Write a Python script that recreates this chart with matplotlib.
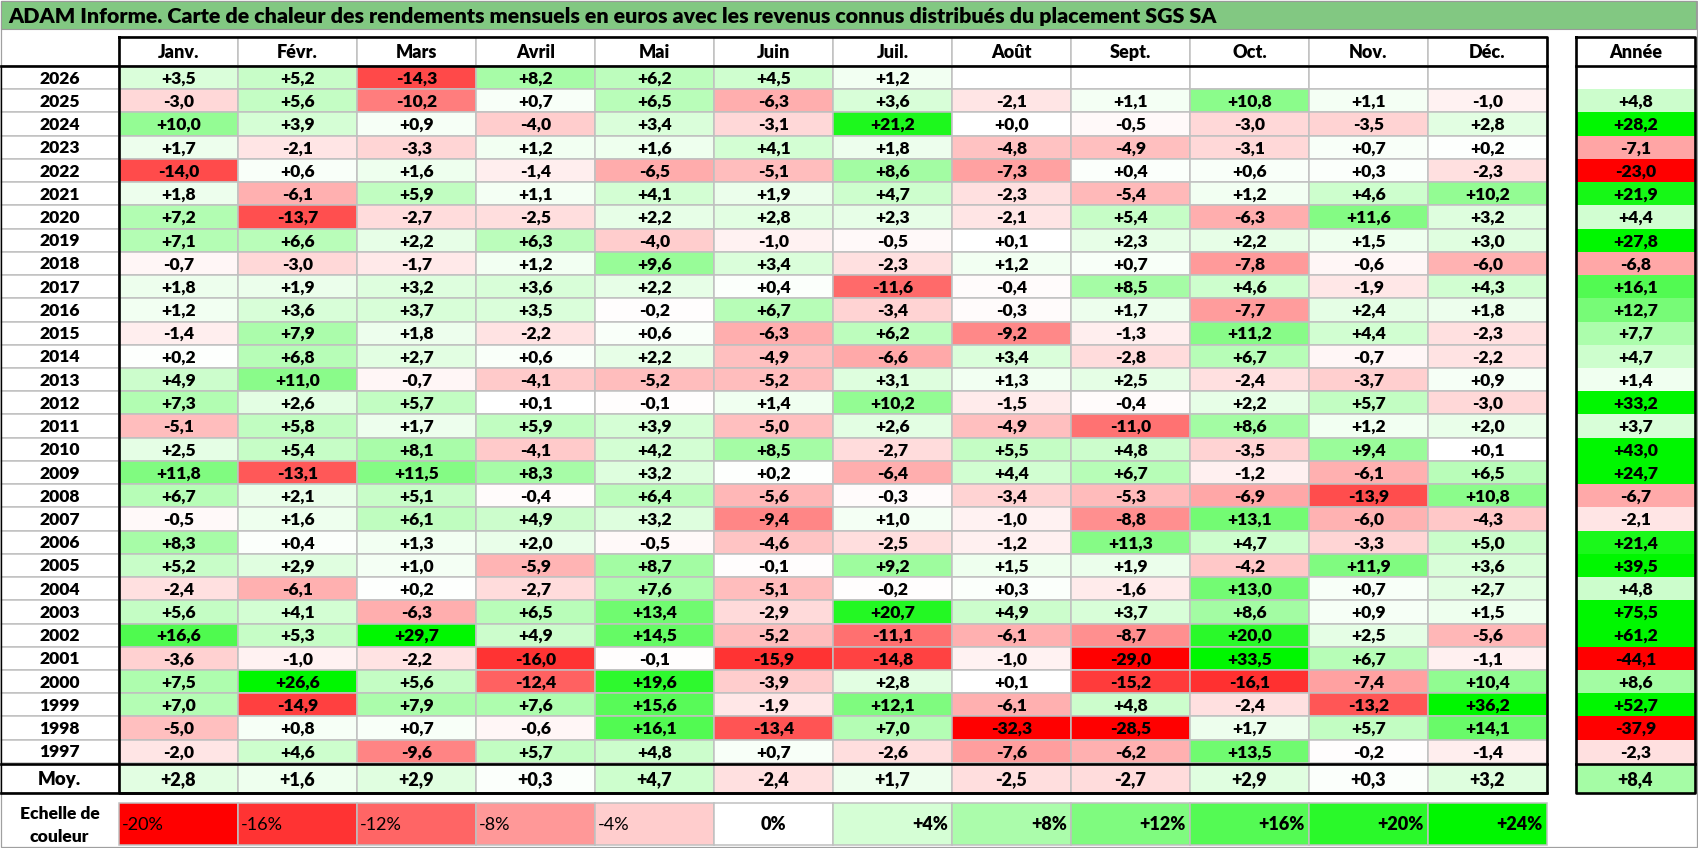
import matplotlib
matplotlib.use("Agg")
import matplotlib.pyplot as plt
from matplotlib.patches import Rectangle
from matplotlib.colors import LinearSegmentedColormap, Normalize

plt.rcParams['font.family'] = ['Lato', 'DejaVu Sans']

# ---------------- data ----------------
title = ("ADAM Informe. Carte de chaleur des rendements mensuels en euros avec les "
         "revenus connus distribués du placement SGS SA")
months = ["Janv.", "Févr.", "Mars", "Avril", "Mai", "Juin", "Juil.", "Août",
          "Sept.", "Oct.", "Nov.", "Déc."]
years = [2026, 2025, 2024, 2023, 2022, 2021, 2020, 2019, 2018, 2017, 2016, 2015,
         2014, 2013, 2012, 2011, 2010, 2009, 2008, 2007, 2006, 2005, 2004, 2003,
         2002, 2001, 2000, 1999, 1998, 1997]

y2026 = [3.5, 5.2, -14.3, 8.2, 6.2, 4.5, 1.2, None, None, None, None, None]
y2025 = [-3.0, 5.6, -10.2, 0.7, 6.5, -6.3, 3.6, -2.1, 1.1, 10.8, 1.1, -1.0]
y2024 = [10.0, 3.9, 0.9, -4.0, 3.4, -3.1, 21.2, 0.0, -0.5, -3.0, -3.5, 2.8]
y2023 = [1.7, -2.1, -3.3, 1.2, 1.6, 4.1, 1.8, -4.8, -4.9, -3.1, 0.7, 0.2]
y2022 = [-14.0, 0.6, 1.6, -1.4, -6.5, -5.1, 8.6, -7.3, 0.4, 0.6, 0.3, -2.3]
y2021 = [1.8, -6.1, 5.9, 1.1, 4.1, 1.9, 4.7, -2.3, -5.4, 1.2, 4.6, 10.2]
y2020 = [7.2, -13.7, -2.7, -2.5, 2.2, 2.8, 2.3, -2.1, 5.4, -6.3, 11.6, 3.2]
y2019 = [7.1, 6.6, 2.2, 6.3, -4.0, -1.0, -0.5, 0.1, 2.3, 2.2, 1.5, 3.0]
y2018 = [-0.7, -3.0, -1.7, 1.2, 9.6, 3.4, -2.3, 1.2, 0.7, -7.8, -0.6, -6.0]
y2017 = [1.8, 1.9, 3.2, 3.6, 2.2, 0.4, -11.6, -0.4, 8.5, 4.6, -1.9, 4.3]
y2016 = [1.2, 3.6, 3.7, 3.5, -0.2, 6.7, -3.4, -0.3, 1.7, -7.7, 2.4, 1.8]
y2015 = [-1.4, 7.9, 1.8, -2.2, 0.6, -6.3, 6.2, -9.2, -1.3, 11.2, 4.4, -2.3]
y2014 = [0.2, 6.8, 2.7, 0.6, 2.2, -4.9, -6.6, 3.4, -2.8, 6.7, -0.7, -2.2]
y2013 = [4.9, 11.0, -0.7, -4.1, -5.2, -5.2, 3.1, 1.3, 2.5, -2.4, -3.7, 0.9]
y2012 = [7.3, 2.6, 5.7, 0.1, -0.1, 1.4, 10.2, -1.5, -0.4, 2.2, 5.7, -3.0]
y2011 = [-5.1, 5.8, 1.7, 5.9, 3.9, -5.0, 2.6, -4.9, -11.0, 8.6, 1.2, 2.0]
y2010 = [2.5, 5.4, 8.1, -4.1, 4.2, 8.5, -2.7, 5.5, 4.8, -3.5, 9.4, 0.1]
y2009 = [11.8, -13.1, 11.5, 8.3, 3.2, 0.2, -6.4, 4.4, 6.7, -1.2, -6.1, 6.5]
y2008 = [6.7, 2.1, 5.1, -0.4, 6.4, -5.6, -0.3, -3.4, -5.3, -6.9, -13.9, 10.8]
y2007 = [-0.5, 1.6, 6.1, 4.9, 3.2, -9.4, 1.0, -1.0, -8.8, 13.1, -6.0, -4.3]
y2006 = [8.3, 0.4, 1.3, 2.0, -0.5, -4.6, -2.5, -1.2, 11.3, 4.7, -3.3, 5.0]
y2005 = [5.2, 2.9, 1.0, -5.9, 8.7, -0.1, 9.2, 1.5, 1.9, -4.2, 11.9, 3.6]
y2004 = [-2.4, -6.1, 0.2, -2.7, 7.6, -5.1, -0.2, 0.3, -1.6, 13.0, 0.7, 2.7]
y2003 = [5.6, 4.1, -6.3, 6.5, 13.4, -2.9, 20.7, 4.9, 3.7, 8.6, 0.9, 1.5]
y2002 = [16.6, 5.3, 29.7, 4.9, 14.5, -5.2, -11.1, -6.1, -8.7, 20.0, 2.5, -5.6]
y2001 = [-3.6, -1.0, -2.2, -16.0, -0.1, -15.9, -14.8, -1.0, -29.0, 33.5, 6.7, -1.1]
y2000 = [7.5, 26.6, 5.6, -12.4, 19.6, -3.9, 2.8, 0.1, -15.2, -16.1, -7.4, 10.4]
y1999 = [7.0, -14.9, 7.9, 7.6, 15.6, -1.9, 12.1, -6.1, 4.8, -2.4, -13.2, 36.2]
y1998 = [-5.0, 0.8, 0.7, -0.6, 16.1, -13.4, 7.0, -32.3, -28.5, 1.7, 5.7, 14.1]
y1997 = [-2.0, 4.6, -9.6, 5.7, 4.8, 0.7, -2.6, -7.6, -6.2, 13.5, -0.2, -1.4]

annual = [None, 4.8, 28.2, -7.1, -23.0, 21.9, 4.4, 27.8, -6.8, 16.1, 12.7, 7.7,
          4.7, 1.4, 33.2, 3.7, 43.0, 24.7, -6.7, -2.1, 21.4, 39.5, 4.8, 75.5,
          61.2, -44.1, 8.6, 52.7, -37.9, -2.3]
month_avg = [2.8, 1.6, 2.9, 0.3, 4.7, -2.4, 1.7, -2.5, -2.7, 2.9, 0.3, 3.2]
annual_avg = 8.4
avg_label = "Moy."
annual_label = "Année"
scale_label = ["Echelle de", "couleur"]
scale_values = [-20, -16, -12, -8, -4, 0, 4, 8, 12, 16, 20, 24]

rows = [y2026, y2025, y2024, y2023, y2022, y2021, y2020, y2019, y2018, y2017,
        y2016, y2015, y2014, y2013, y2012, y2011, y2010, y2009, y2008, y2007,
        y2006, y2005, y2004, y2003, y2002, y2001, y2000, y1999, y1998, y1997]

# ---------------- style / layout ----------------
W, H = 1698, 848
X0, CW = 119, 119.0          # month area left edge, column width
XA0, XA1 = 1576, 1695        # annual column
HY0, HY1 = 37, 66            # header row
RH = 23.23                   # row height
MY0, MY1 = 764, 793          # average row
LY0, LY1 = 803, 845          # colour scale row
GRID = '#c0c0c0'
FS = 12.6
WT = 'heavy'

cmap = LinearSegmentedColormap.from_list(
    'rg', [(0.0, (1.0, 0.0, 0.0)), (20 / 44, (1.0, 1.0, 1.0)), (1.0, (0.0, 0.97, 0.0))])
norm = Normalize(vmin=-20, vmax=24, clip=True)


def fmt(v):
    return f"{v:+.1f}".replace('.', ',')


def color(v):
    return (1, 1, 1) if v is None else cmap(norm(v))


fig = plt.figure(figsize=(W / 100, H / 100), dpi=100)
ax = fig.add_axes([0, 0, 1, 1])
ax.set_xlim(0, W)
ax.set_ylim(H, 0)
ax.axis('off')

# outer frame
ax.add_patch(Rectangle((0.5, 0.5), W - 1.5, H - 1.5, fc='white', ec='#a0a0a0', lw=0.9, zorder=0))

# title bar
ax.add_patch(Rectangle((1, 1), W - 3, 28, fc='#82c882', ec='#9a9a9a', lw=0.8, zorder=1))
ax.text(8, 16, title, fontsize=15.4, fontweight=WT, va='center', ha='left', zorder=5)

# header
for j, m in enumerate(months):
    x = X0 + j * CW
    ax.add_patch(Rectangle((x, HY0), CW, HY1 - HY0, fc='white', ec=GRID, lw=1.1, zorder=2))
    ax.text(x + CW / 2, (HY0 + HY1) / 2 + 1, m, fontsize=FS + 0.4, fontweight=WT,
            ha='center', va='center', zorder=5)
ax.text((XA0 + XA1) / 2, (HY0 + HY1) / 2 + 1, annual_label, fontsize=FS + 0.4,
        fontweight=WT, ha='center', va='center', zorder=5)

# body
for i, (yr, row) in enumerate(zip(years, rows)):
    y = HY1 + i * RH
    yc = y + RH / 2 + 1
    ax.add_patch(Rectangle((1, y), X0 - 1, RH, fc='white', ec=GRID, lw=1.1, zorder=2))
    ax.text(X0 / 2, yc, str(yr), fontsize=FS, fontweight=WT, ha='center', va='center', zorder=5)
    for j, v in enumerate(row):
        x = X0 + j * CW
        ax.add_patch(Rectangle((x, y), CW, RH, fc=color(v), ec=GRID, lw=1.1, zorder=2))
        if v is not None:
            ax.text(x + CW / 2, yc, fmt(v), fontsize=FS, fontweight=WT,
                    ha='center', va='center', zorder=5)
    a = annual[i]
    ax.add_patch(Rectangle((XA0, y), XA1 - XA0, RH, fc=color(a), ec='none', lw=0, zorder=2))
    if a is not None:
        ax.text((XA0 + XA1) / 2, yc, fmt(a), fontsize=FS, fontweight=WT,
                ha='center', va='center', zorder=5)

# average row
myc = (MY0 + MY1) / 2 + 1
ax.add_patch(Rectangle((1, MY0), X0 - 1, MY1 - MY0, fc='white', ec=GRID, lw=1.1, zorder=2))
ax.text(X0 / 2, myc, avg_label, fontsize=FS + 0.8, fontweight=WT, ha='center', va='center', zorder=5)
for j, v in enumerate(month_avg):
    x = X0 + j * CW
    ax.add_patch(Rectangle((x, MY0), CW, MY1 - MY0, fc=color(v), ec=GRID, lw=1.1, zorder=2))
    ax.text(x + CW / 2, myc, fmt(v), fontsize=FS + 0.4, fontweight=WT,
            ha='center', va='center', zorder=5)
ax.add_patch(Rectangle((XA0, MY0), XA1 - XA0, MY1 - MY0, fc=color(annual_avg), ec='none', zorder=2))
ax.text((XA0 + XA1) / 2, myc, fmt(annual_avg), fontsize=FS + 0.4, fontweight=WT,
        ha='center', va='center', zorder=5)

# black borders
BL = dict(color='black', lw=1.9, zorder=6, solid_capstyle='projecting')
ax.plot([X0, X0 + 12 * CW, X0 + 12 * CW, X0, X0], [HY0, HY0, MY1, MY1, HY0], **BL)
ax.plot([1, X0 + 12 * CW], [HY1, HY1], **BL)
ax.plot([1, X0 + 12 * CW], [MY0, MY0], **BL)
ax.plot([1, X0 + 12 * CW], [MY1, MY1], **BL)
ax.plot([1, 1], [HY1, MY1], color='black', lw=1.0, zorder=6)
ax.plot([XA0, XA1, XA1, XA0, XA0], [HY0, HY0, MY1, MY1, HY0], **BL)
ax.plot([XA0, XA1], [HY1, HY1], **BL)
ax.plot([XA0, XA1], [MY0, MY0], **BL)

# colour scale
ax.text(X0 / 2, 814, scale_label[0], fontsize=FS, fontweight=WT, ha='center', va='center', zorder=5)
ax.text(X0 / 2, 837, scale_label[1], fontsize=FS, fontweight=WT, ha='center', va='center', zorder=5)
for j, v in enumerate(scale_values):
    x = X0 + j * CW
    ax.add_patch(Rectangle((x, LY0), CW, LY1 - LY0, fc=color(v), ec=GRID, lw=1.1, zorder=2))
    lab = f"{v:+d}%" if v != 0 else "0%"
    ly = (LY0 + LY1) / 2 + 1
    if v < 0:
        ax.text(x + 3, ly, lab, fontsize=FS + 0.4, ha='left', va='center', zorder=5)
    elif v == 0:
        ax.text(x + CW / 2, ly, lab, fontsize=FS + 0.4, fontweight=WT, ha='center', va='center', zorder=5)
    else:
        ax.text(x + CW - 4, ly, lab, fontsize=FS + 0.4, fontweight=WT, ha='right', va='center', zorder=5)

fig.savefig("out.png", dpi=100)
